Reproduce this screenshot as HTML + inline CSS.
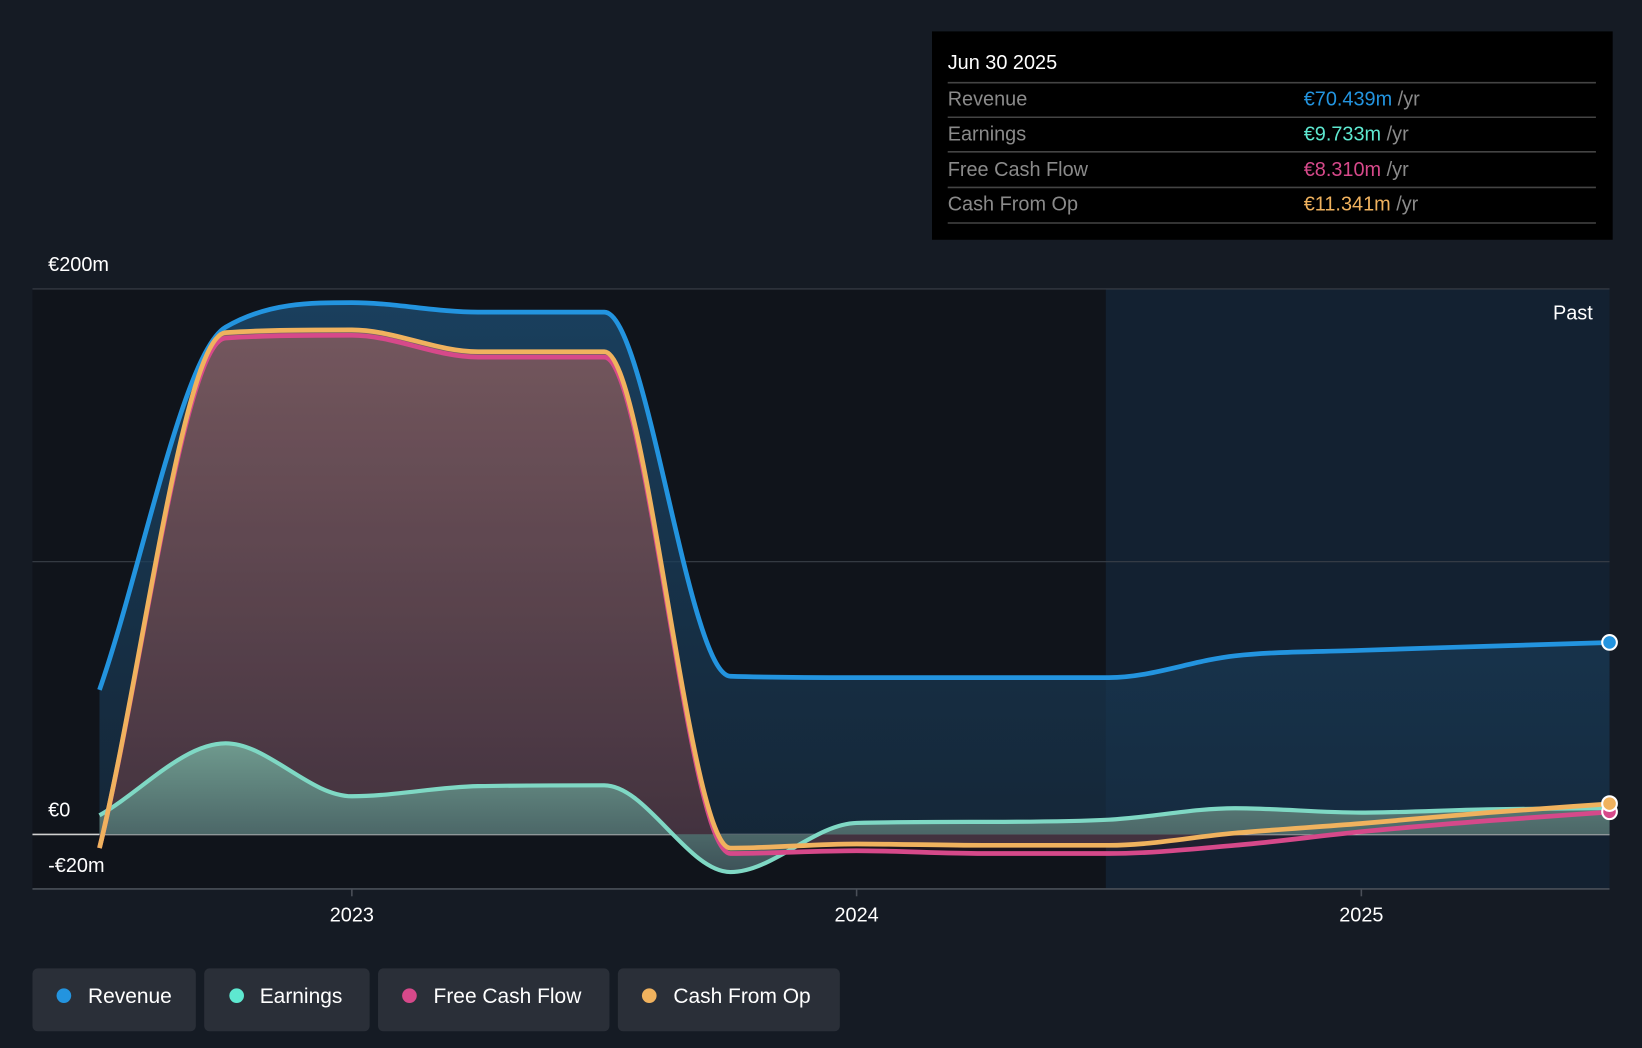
<!DOCTYPE html>
<html><head><meta charset="utf-8"><style>
html,body{margin:0;padding:0;background:#151b24;}
svg{display:block;font-family:"Liberation Sans",sans-serif;}
</style></head><body>
<svg id="chart" width="1642" height="1048" viewBox="0 0 1568 1001" preserveAspectRatio="none" xmlns="http://www.w3.org/2000/svg">
<defs>
<linearGradient id="cfoGrad" x1="0" y1="0" x2="0" y2="1"><stop offset="0" stop-color="#766266"/><stop offset="1" stop-color="#3b3641"/></linearGradient>
<linearGradient id="earnGrad" x1="0" y1="0" x2="0" y2="1"><stop offset="0" stop-color="#6f9a8e"/><stop offset="1" stop-color="#3d5258"/></linearGradient>
<linearGradient id="revGrad" x1="0" y1="0" x2="0" y2="1"><stop offset="0" stop-color="#1c4a6e" stop-opacity="0.8"/><stop offset="1" stop-color="#173148" stop-opacity="0.65"/></linearGradient>
<clipPath id="plotClip"><rect x="31" y="260" width="1506" height="600"/></clipPath>
</defs>
<rect x="0" y="0" width="1568" height="1001" fill="#151b24"/>
<rect x="31" y="276" width="1025" height="573" fill="#10141b"/>
<rect x="1056" y="276" width="481" height="573" fill="#132131"/>
<g id="grid"></g>
<g id="series" clip-path="url(#plotClip)"></g>
<g id="axes"></g>
<text x="1521" y="305" fill="#ffffff" font-size="19" text-anchor="end">Past</text>
<g>
<rect x="890" y="30" width="650" height="199" fill="#000000"/>
<text x="905" y="66" fill="#ffffff" font-size="19">Jun 30 2025</text>
<line x1="905" y1="79" x2="1524" y2="79" stroke="#444" stroke-width="1.5"/>
<text x="905" y="101" fill="#8a8a8a" font-size="19">Revenue</text>
<text x="1245" y="101" font-size="19"><tspan fill="#2394df">€70.439m</tspan><tspan fill="#8a8a8a"> /yr</tspan></text>
<line x1="905" y1="112" x2="1524" y2="112" stroke="#444" stroke-width="1.5"/>
<text x="905" y="134" fill="#8a8a8a" font-size="19">Earnings</text>
<text x="1245" y="134" font-size="19"><tspan fill="#5ee8d0">€9.733m</tspan><tspan fill="#8a8a8a"> /yr</tspan></text>
<line x1="905" y1="145" x2="1524" y2="145" stroke="#444" stroke-width="1.5"/>
<text x="905" y="168" fill="#8a8a8a" font-size="19">Free Cash Flow</text>
<text x="1245" y="168" font-size="19"><tspan fill="#d6498a">€8.310m</tspan><tspan fill="#8a8a8a"> /yr</tspan></text>
<line x1="905" y1="179" x2="1524" y2="179" stroke="#444" stroke-width="1.5"/>
<text x="905" y="201" fill="#8a8a8a" font-size="19">Cash From Op</text>
<text x="1245" y="201" font-size="19"><tspan fill="#f0b25e">€11.341m</tspan><tspan fill="#8a8a8a"> /yr</tspan></text>
<line x1="905" y1="213" x2="1524" y2="213" stroke="#444" stroke-width="1.5"/>
</g>
<g>
<g><rect x="31" y="925" width="156" height="60" rx="5" fill="#2a2f38"/><circle cx="61" cy="951" r="7" fill="#2394df"/><text x="84" y="958" fill="#fff" font-size="20">Revenue</text></g>
<g><rect x="195" y="925" width="158" height="60" rx="5" fill="#2a2f38"/><circle cx="226" cy="951" r="7" fill="#5ee8d0"/><text x="248" y="958" fill="#fff" font-size="20">Earnings</text></g>
<g><rect x="361" y="925" width="221" height="60" rx="5" fill="#2a2f38"/><circle cx="391" cy="951" r="7" fill="#d6498a"/><text x="414" y="958" fill="#fff" font-size="20">Free Cash Flow</text></g>
<g><rect x="590" y="925" width="212" height="60" rx="5" fill="#2a2f38"/><circle cx="620" cy="951" r="7" fill="#f0b25e"/><text x="643" y="958" fill="#fff" font-size="20">Cash From Op</text></g>
</g>
</svg>
<script>
const dates = [2022.5,2022.75,2023.0,2023.25,2023.5,2023.75,2024.0,2024.25,2024.5,2024.75,2025.0,2025.25,2025.5];
const revenue = [53,186,195,191.5,191.5,58,57.5,57.5,57.5,65.5,67.5,69,70.4];
const earnings = [7,33.4,14,17.7,18,-13.8,4.2,4.6,5.4,9.6,8,9.2,9.7];
const fcf = [-5,182,183,175,175,-7,-6,-7,-7,-4,1,5,8.3];
const cfo = [-5,184,185,177,177,-5,-3.5,-4,-4,0.5,4,8,11.3];
const yTicks = [200,100,0];
const yLabels = ["€200m","","€0"];
const xTicks = [2023,2024,2025];
const NS="http://www.w3.org/2000/svg";
function xS(d){return 336+(d-2023)*482;}
function yS(v){return 797-v*2.605;}
function mk(tag,attrs,parent){const e=document.createElementNS(NS,tag);for(const k in attrs)e.setAttribute(k,attrs[k]);parent.appendChild(e);return e;}
function monotonePath(xs,ys){
  const n=xs.length,m=[],d=[];
  for(let i=0;i<n-1;i++)d.push((ys[i+1]-ys[i])/(xs[i+1]-xs[i]));
  for(let i=0;i<n;i++){
    if(i===0)m.push(d[0]);else if(i===n-1)m.push(d[n-2]);
    else m.push(d[i-1]*d[i]<=0?0:(d[i-1]+d[i])/2);
  }
  for(let i=0;i<n-1;i++){
    if(d[i]===0){m[i]=0;m[i+1]=0;continue;}
    const a=m[i]/d[i],b=m[i+1]/d[i],s=a*a+b*b;
    if(s>9){const t=3/Math.sqrt(s);m[i]=t*a*d[i];m[i+1]=t*b*d[i];}
  }
  let p="M"+xs[0]+","+ys[0];
  for(let i=0;i<n-1;i++){const h=(xs[i+1]-xs[i])/3;
    p+=" C"+(xs[i]+h)+","+(ys[i]+m[i]*h)+" "+(xs[i+1]-h)+","+(ys[i+1]-m[i+1]*h)+" "+xs[i+1]+","+ys[i+1];}
  return p;
}
const grid=document.getElementById('grid');
yTicks.forEach((t,i)=>{
  const l=mk('line',{x1:31,x2:1537,y1:yS(t),y2:yS(t),stroke:t===0?'#d0d0d0':'#3a3f48','stroke-width':t===0?1.5:1},grid);
  
  
  if(yLabels[i]){const tx=mk('text',{x:46,y:yS(t)-17,fill:'#fff','font-size':19},grid);tx.textContent=yLabels[i];
    
    }
});
const neg=mk('text',{x:46,y:yS(-20)-16,fill:'#fff','font-size':19},grid);neg.textContent="-€20m";


const axes=document.getElementById('axes');
const ax=mk('line',{x1:31,x2:1537,y1:yS(-20),y2:yS(-20),stroke:'#4a4f58','stroke-width':1.5},axes);


xTicks.forEach(t=>{
  const tk=mk('line',{x1:xS(t),x2:xS(t),y1:yS(-20),y2:yS(-20)+7,stroke:'#4a4f58','stroke-width':1.5},axes);
  
  
  const tx=mk('text',{x:xS(t),y:yS(-20)+31,fill:'#fff','font-size':19,'text-anchor':'middle'},axes);tx.textContent=t;
  
  
});
const g=document.getElementById('series');
const xs=dates.map(xS);
const x0=xs[0],xN=xs[xs.length-1],y0=yS(0);
function area(vals,fill,name){
  const p=monotonePath(xs,vals.map(yS))+" L"+xN+","+y0+" L"+x0+","+y0+" Z";
  const e=mk('path',{d:p,fill:fill},g);
  
  
}
function line(vals,color,name,w){
  const e=mk('path',{d:monotonePath(xs,vals.map(yS)),fill:'none',stroke:color,'stroke-width':w,'stroke-linejoin':'round'},g);
  
  
}
area(revenue,'url(#revGrad)','revenue-area');
area(cfo,'url(#cfoGrad)','cfo-area');
area(fcf,'rgba(110,30,50,0.15)','fcf-area');
area(earnings,'url(#earnGrad)','earnings-area');
line(revenue,'#2394df','revenue-line',4.5);
line(earnings,'#7fd8c4','earnings-line',4);
line(fcf,'#d6498a','fcf-line',4.5);
line(cfo,'#f0b25e','cfo-line',4.5);
const last=dates.length-1;
[[revenue,'#2394df','revenue'],[fcf,'#d6498a','fcf'],[cfo,'#f0b25e','cfo']].forEach(s=>{
  const c=mk('circle',{cx:1537,cy:yS(s[0][last]),r:7,fill:s[1],stroke:'#fff','stroke-width':2},document.getElementById('chart'));
  
  
});
</script>
</body></html>
